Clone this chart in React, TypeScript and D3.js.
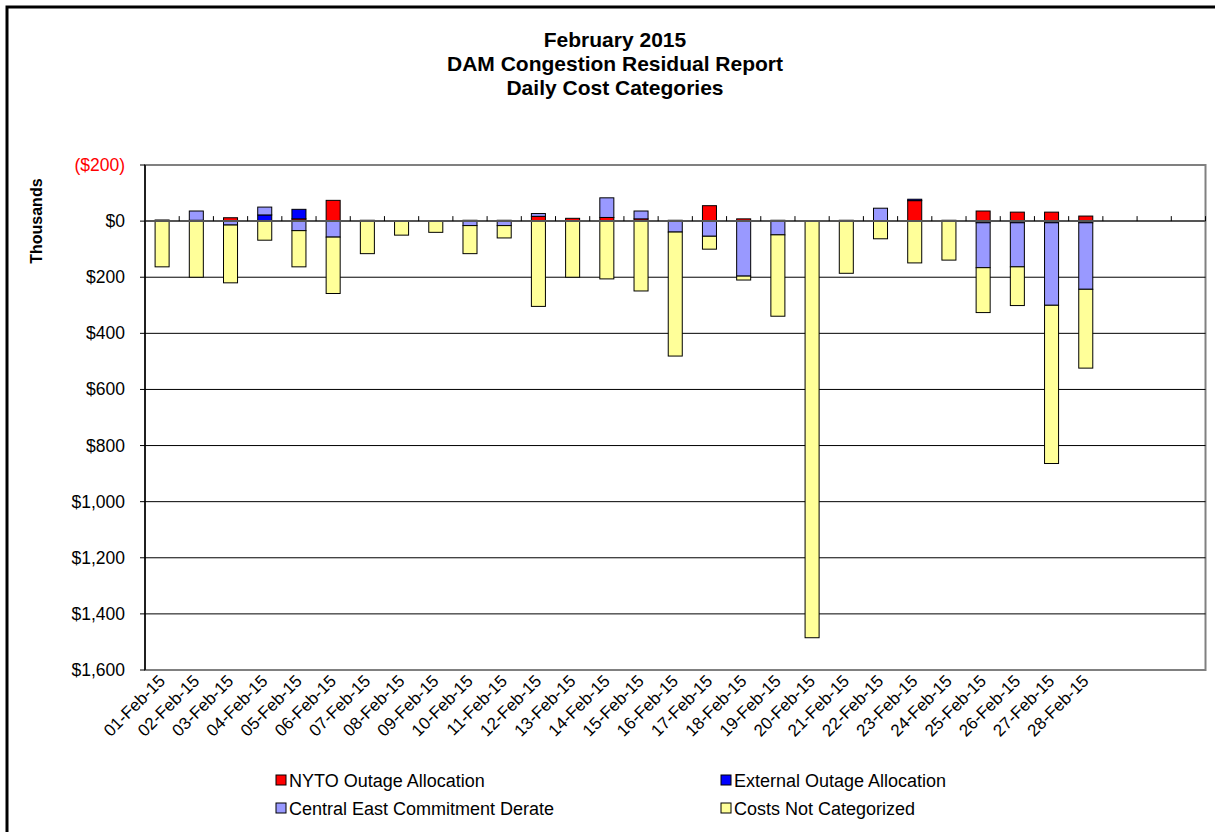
import * as d3 from 'd3';

const days = [
  '01-Feb-15', '02-Feb-15', '03-Feb-15', '04-Feb-15', '05-Feb-15', '06-Feb-15', '07-Feb-15',
  '08-Feb-15', '09-Feb-15', '10-Feb-15', '11-Feb-15', '12-Feb-15', '13-Feb-15', '14-Feb-15',
  '15-Feb-15', '16-Feb-15', '17-Feb-15', '18-Feb-15', '19-Feb-15', '20-Feb-15', '21-Feb-15',
  '22-Feb-15', '23-Feb-15', '24-Feb-15', '25-Feb-15', '26-Feb-15', '27-Feb-15', '28-Feb-15',
];
// the category axis keeps room for a 31-day month
const slotCount = 31;

// $ thousands, positive = cost (drawn downward on the reversed axis)
const nyto = [-4, -3, -12, 0, -8, -74, -3, -2, 0, -3, -3, -17, -10, -13, -8, -3, -55, -8, -3, 0, -3, 0, -73, -3, -36, -32, -32, -18];
const external = [0, 0, 0, -22, -34, 0, 0, 0, 0, 0, 0, 0, 0, 0, 0, 0, 0, 0, 0, 0, 0, 0, -5, 0, 6, 6, 6, 6];
const centralEast = [0, -33, 14, -28, 34, 57, 0, 0, 0, 16, 16, -10, 0, -70, -28, 39, 54, 196, 49, 0, 0, -46, 0, 0, 160, 157, 294, 237];
const notCategorized = [163, 200, 206, 68, 129, 201, 116, 50, 40, 100, 44, 304, 200, 206, 249, 442, 46, 14, 290, 1485, 186, 63, 149, 139, 160, 138, 564, 281];

const seriesNames = ['NYTO Outage Allocation', 'External Outage Allocation', 'Central East Commitment Derate', 'Costs Not Categorized'];
const seriesColors = ['#FF0000', '#0000FF', '#9999FF', '#FFFF99'];
const yTicks = [-200, 0, 200, 400, 600, 800, 1000, 1200, 1400, 1600];
const titleLines = ['February 2015', 'DAM Congestion Residual Report', 'Daily Cost Categories'];

const W = 1215;
const H = 832;
const plot = { left: 145, right: 1205.5, top: 165, bottom: 670 };
const font = 'Arial, "Liberation Sans", sans-serif';

export default function App() {
  const keys = ['nyto', 'external', 'central', 'other'];
  const rows = days.map((d, i) => ({
    i,
    nyto: nyto[i],
    external: external[i],
    central: centralEast[i],
    other: notCategorized[i],
  }));

  const stack = d3.stack<any>().keys(keys).offset(d3.stackOffsetDiverging);
  const layers = stack(rows);

  const x = d3.scaleBand<number>()
    .domain(d3.range(slotCount))
    .range([plot.left, plot.right])
    .paddingInner(0.59)
    .paddingOuter(0.295);
  const step = x.step();

  const y = d3.scaleLinear().domain([-200, 1600]).range([plot.top, plot.bottom]);
  const fmt = d3.format(',');
  const tickLabel = (v: number) => (v < 0 ? `($${fmt(-v)})` : `$${fmt(v)}`);

  const y0 = y(0);

  return (
    <svg width={W} height={H} style={{ position: 'absolute', left: 0, top: 0 }} fontFamily={font}>
      <rect x={0} y={0} width={W} height={H} fill="#fff" />
      {/* outer frame */}
      <rect x={7} y={7} width={W + 20} height={H + 20} fill="none" stroke="#000" strokeWidth={3} />

      {titleLines.map((t, i) => (
        <text key={i} x={615} y={47 + i * 24} textAnchor="middle" fontSize={21} fontWeight="bold">{t}</text>
      ))}

      {/* plot frame */}
      <rect x={plot.left} y={plot.top} width={plot.right - plot.left} height={plot.bottom - plot.top}
        fill="#fff" stroke="#808080" strokeWidth={2} />

      {/* gridlines */}
      {yTicks.filter(v => v > 0 && v < 1600).map(v => (
        <line key={v} x1={plot.left} x2={plot.right} y1={y(v)} y2={y(v)} stroke="#000" strokeWidth={1} />
      ))}

      {/* bars */}
      {layers.map((layer, si) => (
        <g key={layer.key}>
          {layer.map((d, i) => {
            const a = y(d[0]);
            const b = y(d[1]);
            const h = Math.abs(b - a);
            if (h < 0.01) return null;
            return (
              <rect key={i} x={x(i)} y={Math.min(a, b)} width={x.bandwidth()} height={h}
                fill={seriesColors[si]} stroke="#000" strokeWidth={1} />
            );
          })}
        </g>
      ))}

      {/* zero (category) axis */}
      <line x1={plot.left} x2={plot.right} y1={y0} y2={y0} stroke="#555" strokeWidth={2} />
      {d3.range(1, slotCount + 1).map(k => (
        <line key={k} x1={plot.left + k * step} x2={plot.left + k * step} y1={y0 - 5} y2={y0} stroke="#000" strokeWidth={1} />
      ))}

      {/* value axis */}
      <line x1={plot.left} x2={plot.left} y1={plot.top} y2={plot.bottom} stroke="#000" strokeWidth={1.5} />
      {yTicks.map(v => (
        <g key={v}>
          <line x1={plot.left - 5} x2={plot.left} y1={y(v)} y2={y(v)} stroke="#000" />
          <text x={125} y={y(v) + 6} textAnchor="end" fontSize={17.5} fill={v < 0 ? '#FF0000' : '#000'}>
            {tickLabel(v)}
          </text>
        </g>
      ))}
      <text transform={`translate(42,${y0}) rotate(-90)`} textAnchor="middle" fontSize={16} fontWeight="bold">Thousands</text>

      {/* category labels */}
      {days.map((d, i) => {
        const cx = (x(i) as number) + x.bandwidth() / 2 + 4;
        return (
          <text key={d} transform={`translate(${cx},${plot.bottom + 12}) rotate(-45)`} textAnchor="end"
            fontSize={17}>{d}</text>
        );
      })}

      {/* legend */}
      {seriesNames.map((name, i) => {
        const col = i % 2;
        const row = Math.floor(i / 2);
        const lx = col === 0 ? 276 : 721;
        const ly = 775 + row * 28;
        return (
          <g key={name}>
            <rect x={lx} y={ly} width={10} height={10} fill={seriesColors[i]} stroke="#000" strokeWidth={1} />
            <text x={lx + 13} y={ly + 12} fontSize={18}>{name}</text>
          </g>
        );
      })}
    </svg>
  );
}
